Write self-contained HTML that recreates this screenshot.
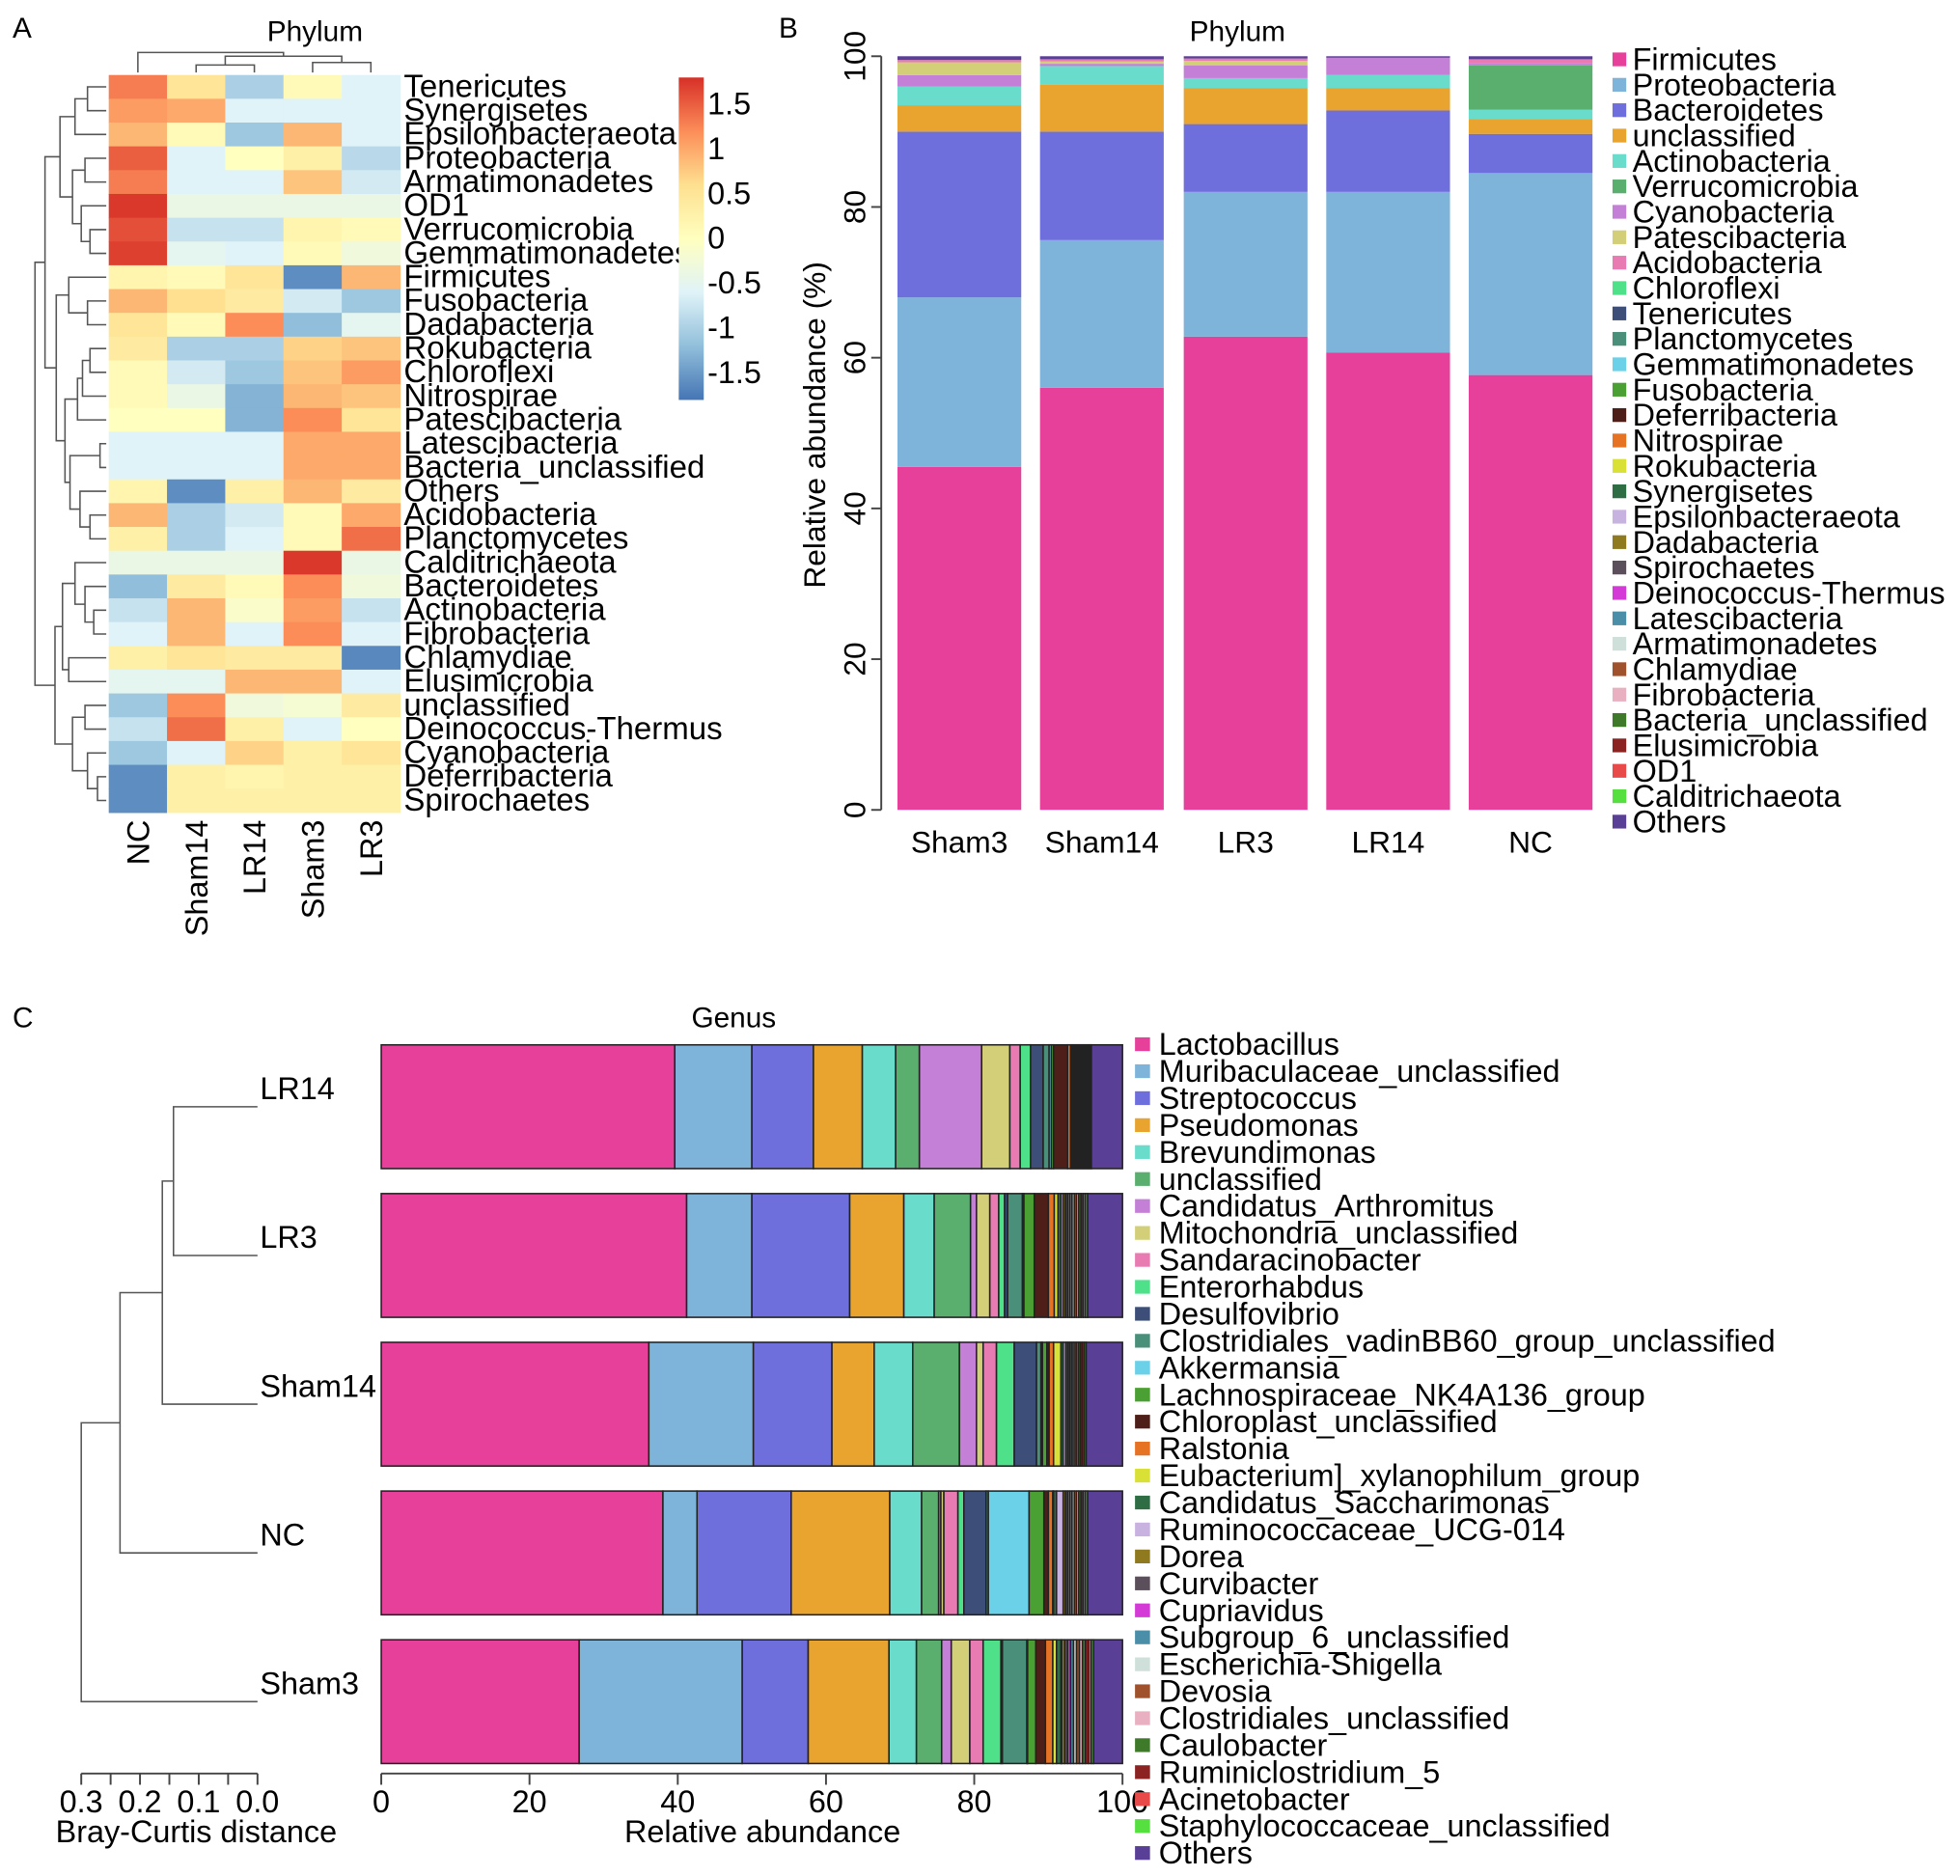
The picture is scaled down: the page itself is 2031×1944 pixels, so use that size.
<!DOCTYPE html>
<html><head><meta charset="utf-8"><style>
html,body{margin:0;padding:0;background:#fff;}
svg{display:block;font-family:"Liberation Sans",Arial,sans-serif;}
</style></head><body>
<svg id="fig" width="2031" height="1944" viewBox="0 0 1568 1501" preserveAspectRatio="none" xmlns="http://www.w3.org/2000/svg">
<rect x="0" y="0" width="1568" height="1501" fill="#fff"/>
<text x="10" y="30" font-size="23">A</text>
<text x="252" y="33" font-size="23" text-anchor="middle">Phylum</text>
<text x="623" y="30" font-size="23">B</text>
<text x="990" y="33" font-size="23" text-anchor="middle">Phylum</text>
<text x="10" y="822" font-size="23">C</text>
<text x="587" y="822" font-size="23" text-anchor="middle">Genus</text>
<g id="gA"></g>
<g id="gB"></g>
<g id="gC"></g>
</svg>
<script>
// ---------- Panel A data ----------
const heatCols = ["NC","Sham14","LR14","Sham3","LR3"];
const heatRows = ["Tenericutes","Synergisetes","Epsilonbacteraeota","Proteobacteria","Armatimonadetes","OD1","Verrucomicrobia","Gemmatimonadetes","Firmicutes","Fusobacteria","Dadabacteria","Rokubacteria","Chloroflexi","Nitrospirae","Patescibacteria","Latescibacteria","Bacteria_unclassified","Others","Acidobacteria","Planctomycetes","Calditrichaeota","Bacteroidetes","Actinobacteria","Fibrobacteria","Chlamydiae","Elusimicrobia","unclassified","Deinococcus-Thermus","Cyanobacteria","Deferribacteria","Spirochaetes"];
const heatValues = [
[1.3,0.5,-1.0,0.1,-0.6],[1.1,1.0,-0.6,-0.6,-0.6],[0.9,0.1,-1.1,0.9,-0.6],[1.5,-0.6,0.0,0.3,-0.9],
[1.3,-0.6,-0.6,0.8,-0.7],[1.75,-0.4,-0.4,-0.4,-0.4],[1.6,-0.8,-0.8,0.2,0.1],[1.7,-0.5,-0.6,0.1,-0.3],
[0.2,0.1,0.5,-1.6,0.9],[0.9,0.6,0.4,-0.7,-1.1],[0.5,0.1,1.2,-1.2,-0.5],[0.4,-1.0,-1.0,0.7,0.8],
[0.1,-0.7,-1.1,0.8,1.1],[0.1,-0.4,-1.3,0.9,0.8],[0.0,0.0,-1.3,1.2,0.5],[-0.6,-0.6,-0.6,1.0,1.0],
[-0.6,-0.6,-0.6,1.0,1.0],[0.2,-1.6,0.3,0.9,0.4],[0.9,-1.0,-0.7,0.1,1.0],[0.3,-1.0,-0.6,0.1,1.4],
[-0.4,-0.4,-0.4,1.75,-0.4],[-1.2,0.4,0.1,1.2,-0.3],[-0.8,0.9,-0.1,1.1,-0.8],[-0.6,0.9,-0.6,1.2,-0.6],
[0.3,0.5,0.4,0.4,-1.65],[-0.5,-0.5,0.9,0.9,-0.6],[-1.1,1.2,-0.3,-0.2,0.4],[-0.8,1.4,0.3,-0.6,0.0],
[-1.1,-0.6,0.7,0.3,0.5],[-1.6,0.3,0.2,0.3,0.3],[-1.6,0.3,0.3,0.3,0.3]];
const colorbarTicks = [1.5,1,0.5,0,-0.5,-1,-1.5];
const rowMerges = [[0,1,70],[31,2,60],[3,4,68],[6,7,72],[5,34,65],[33,35,58],[32,36,48],[9,10,70],[8,38,55],[11,12,72],[40,13,66],[41,14,62],[15,16,80],[18,19,72],[17,44,64],[43,45,56],[42,46,52],[39,47,45],[37,48,36],[22,23,75],[21,50,68],[20,51,60],[24,25,55],[52,53,50],[26,27,68],[29,30,78],[28,56,70],[55,57,58],[54,58,44],[49,59,28]];
const colMerges = [[1,2,52],[3,4,50],[5,6,45],[0,7,42]];

// ---------- Panel B data ----------
const phylumSamples = ["Sham3","Sham14","LR3","LR14","NC"];
const phylumNames = ["Firmicutes","Proteobacteria","Bacteroidetes","unclassified","Actinobacteria","Verrucomicrobia","Cyanobacteria","Patescibacteria","Acidobacteria","Chloroflexi","Tenericutes","Planctomycetes","Gemmatimonadetes","Fusobacteria","Deferribacteria","Nitrospirae","Rokubacteria","Synergisetes","Epsilonbacteraeota","Dadabacteria","Spirochaetes","Deinococcus-Thermus","Latescibacteria","Armatimonadetes","Chlamydiae","Fibrobacteria","Bacteria_unclassified","Elusimicrobia","OD1","Calditrichaeota","Others"];
const phySham3  = [45.5,22.5,22,3.5,2.5,0,1.5,1.7,0.3,0,0,0,0,0,0,0,0,0,0,0,0,0,0,0,0,0,0,0,0,0,0.5];
const physham14 = [56,19.6,14.4,6.2,2.5,0,0.3,0.3,0.3,0,0,0,0,0,0,0,0,0,0,0,0,0,0,0,0,0,0,0,0,0,0.4];
const phyLR3    = [62.8,19.2,9,4.8,1.3,0,1.7,0.6,0.3,0,0,0,0,0,0,0,0,0,0,0,0,0,0,0,0,0,0,0,0,0,0.3];
const phyLR14   = [60.7,21.3,10.8,3,1.7,0,2.3,0,0,0,0,0,0,0,0,0,0,0,0,0,0,0,0,0,0,0,0,0,0,0,0.2];
const phyNC     = [57.7,26.8,5.2,2,1.2,5.9,0.3,0,0.5,0,0,0,0,0,0,0,0,0,0,0,0,0,0,0,0,0,0,0,0,0,0.4];
const phylumTicks = [0,20,40,60,80,100];

// ---------- Panel C data ----------
const genusSamples = ["LR14","LR3","Sham14","NC","Sham3"];
const genusNames = ["Lactobacillus","Muribaculaceae_unclassified","Streptococcus","Pseudomonas","Brevundimonas","unclassified","Candidatus_Arthromitus","Mitochondria_unclassified","Sandaracinobacter","Enterorhabdus","Desulfovibrio","Clostridiales_vadinBB60_group_unclassified","Akkermansia","Lachnospiraceae_NK4A136_group","Chloroplast_unclassified","Ralstonia","Eubacterium]_xylanophilum_group","Candidatus_Saccharimonas","Ruminococcaceae_UCG-014","Dorea","Curvibacter","Cupriavidus","Subgroup_6_unclassified","Escherichia-Shigella","Devosia","Clostridiales_unclassified","Caulobacter","Ruminiclostridium_5","Acinetobacter","Staphylococcaceae_unclassified","Others"];
const genLR14   = [39.6,10.4,8.3,6.6,4.5,3.2,8.4,3.8,1.4,1.4,1.7,0.8,0.3,0.3,1.9,0.4,0.2,0.2,0.2,0.2,0.2,0.2,0.2,0.2,0.2,0.2,0.2,0.2,0.2,0.2,4.2];
const genLR3    = [41.2,8.8,13.2,7.3,4.1,4.9,0.8,1.8,1.2,0.8,0.4,2.0,0.2,1.4,1.9,0.8,0.5,0.4,0.3,0.3,0.3,0.3,0.3,0.3,0.3,0.3,0.3,0.3,0.3,0.3,4.7];
const genSham14 = [36.1,14.1,10.6,5.7,5.2,6.3,2.3,0.9,1.8,2.4,3.0,0.6,0.2,0.6,0.3,0.6,1.0,0.3,0.35,0.25,0.25,0.25,0.25,0.25,0.25,0.25,0.25,0.25,0.25,0.25,4.9];
const genNC     = [38,4.6,12.7,13.3,4.3,2.3,0.3,0.4,1.9,0.8,3.0,0.3,5.5,2.0,0.6,0.6,0.1,0.4,0.9,0.3,0.3,0.3,0.3,0.3,0.3,0.3,0.3,0.3,0.3,0.3,4.7];
const genSham3  = [26.7,22.0,8.9,10.9,3.7,3.4,1.3,2.5,1.8,2.4,0.2,3.3,0.1,1.1,1.3,1.0,0.5,0.6,0.1,0.4,0.4,0.4,0.4,0.4,0.4,0.4,0.4,0.4,0.4,0.3,3.9];
const genusTicks = [0,20,40,60,80,100];
const brayTicks = [0.3,0.25,0.2,0.15,0.1,0.05,0.0];
const brayLabels = [0.3,0.2,0.1,0.0];
const brayMerges = [[0,1,0.143],[5,2,0.162],[6,3,0.234],[7,4,0.30]];

const palette = ["#e6409b","#7eb3da","#6e6fdc","#e8a42e","#6adccc","#5aae6e","#c47fd6","#d2cf78","#e87bb1","#4fe08a","#3d4f78","#4a8f7a","#6bd1e8","#4aa032","#4d1f18","#e67224","#d9e036","#2f6e45","#c8b2e0","#8f7a1f","#5a4f5a","#d43ad6","#4a8ea8","#cfe0da","#a0522d","#e8b0c0","#3e7a2a","#8b2323","#e84a4a","#55e040","#5a3f96"];

const NS="http://www.w3.org/2000/svg";
function mk(tag, attrs, parent){const e=document.createElementNS(NS,tag);for(const k in attrs)e.setAttribute(k,attrs[k]);parent.appendChild(e);return e;}

// ---------- Panel A ----------
const gA=document.getElementById('gA');
const hx0=87,hx1=320,hy0=60,hy1=650;
const cw=(hx1-hx0)/heatCols.length, rh=(hy1-hy0)/heatRows.length;
const stops=["#4575b4","#91bfdb","#e0f3f8","#ffffbf","#fee090","#fc8d59","#d73027"];
const vmin=-1.8,vmax=1.8;
function hex(c){return [parseInt(c.slice(1,3),16),parseInt(c.slice(3,5),16),parseInt(c.slice(5,7),16)];}
function cmap(v){let t=(v-vmin)/(vmax-vmin);t=Math.max(0,Math.min(1,t))*(stops.length-1);const i=Math.min(stops.length-2,Math.floor(t));const f=t-i;const a=hex(stops[i]),b=hex(stops[i+1]);return "rgb("+a.map((x,k)=>Math.round(x+(b[k]-x)*f)).join(",")+")";}
heatValues.forEach((row,r)=>{row.forEach((v,c)=>{
  const e=mk('rect',{x:hx0+c*cw,y:hy0+r*rh,width:cw+0.5,height:rh+0.5,fill:cmap(v)},gA);
  
  
});
  const t=mk('text',{x:hx1+3,y:hy0+(r+0.5)*rh+8,'font-size':25.5},gA);t.textContent=heatRows[r];
  
  
});
heatCols.forEach((c,i)=>{
  const x=hx0+(i+0.5)*cw+9, y=hy1+6;
  const t=mk('text',{x:x,y:y,'font-size':25,'text-anchor':'end',transform:`rotate(-90 ${x} ${y})`},gA);t.textContent=c;
  
  
});
(function(){const pos={};heatRows.forEach((_,i)=>pos[i]=[hx0-2,hy0+(i+0.5)*rh]);let id=heatRows.length;
 rowMerges.forEach(m=>{const a=pos[m[0]],b=pos[m[1]],x=m[2];
  const p=mk('path',{d:`M${a[0]},${a[1]}H${x}V${b[1]}H${b[0]}`,fill:'none',stroke:'#555','stroke-width':1.2},gA);
  
  
  pos[id++]=[x,(a[1]+b[1])/2];});})();
(function(){const pos={};heatCols.forEach((_,i)=>pos[i]=[hx0+(i+0.5)*cw,hy0-2]);let id=heatCols.length;
 colMerges.forEach(m=>{const a=pos[m[0]],b=pos[m[1]],y=m[2];
  const p=mk('path',{d:`M${a[0]},${a[1]}V${y}H${b[0]}V${b[1]}`,fill:'none',stroke:'#555','stroke-width':1.2},gA);
  
  
  pos[id++]=[(a[0]+b[0])/2,y];});})();
const defs=mk('defs',{},gA);const lg=mk('linearGradient',{id:'cb',x1:0,y1:1,x2:0,y2:0},defs);
stops.forEach((s,i)=>mk('stop',{offset:i/(stops.length-1),'stop-color':s},lg));
const cbx=543,cby0=62,cby1=320;
const cb=mk('rect',{x:cbx,y:cby0,width:20,height:cby1-cby0,fill:'url(#cb)'},gA);


colorbarTicks.forEach(v=>{const y=cby1-(v-vmin)/(vmax-vmin)*(cby1-cby0);
  const t=mk('text',{x:566,y:y+8,'font-size':25},gA);t.textContent=String(v);
  
  });

// ---------- Panel B ----------
const gB=document.getElementById('gB');
const phyData=[phySham3,physham14,phyLR3,phyLR14,phyNC];
const by0=648,by1=45; const ys=v=>by0-(by0-by1)*v/100;
const bx=[718,832,947,1061,1175], bw=99;
phyData.forEach((arr,s)=>{let cum=0;arr.forEach((v,i)=>{if(v<=0)return;
  const e=mk('rect',{x:bx[s],y:ys(cum+v),width:bw,height:ys(cum)-ys(cum+v),fill:palette[i]},gB);
  
  
  cum+=v;});
  const t=mk('text',{x:bx[s]+bw/2,y:682,'font-size':24.5,'text-anchor':'middle'},gB);t.textContent=phylumSamples[s];
  
  
});
mk('line',{x1:705,y1:ys(0),x2:705,y2:ys(100),stroke:'#444','stroke-width':1.5},gB);
phylumTicks.forEach(v=>{const y=ys(v);
  mk('line',{x1:697,y1:y,x2:705,y2:y,stroke:'#444','stroke-width':1.5},gB);
  const t=mk('text',{x:692,y:y,'font-size':24.5,'text-anchor':'middle',transform:`rotate(-90 692 ${y})`},gB);t.textContent=String(v);
  
  });
(function(){const t=mk('text',{x:660,y:340,'font-size':24.5,'text-anchor':'middle',transform:'rotate(-90 660 340)'},gB);t.textContent='Relative abundance (%)';
  
  })();
phylumNames.forEach((n,i)=>{const y=48+i*20.33;
  const r=mk('rect',{x:1290,y:y-6,width:11,height:11,fill:palette[i]},gB);
  
  
  const t=mk('text',{x:1306,y:y+8,'font-size':25},gB);t.textContent=n;
  
  });

// ---------- Panel C ----------
const gC=document.getElementById('gC');
const genData=[genLR14,genLR3,genSham14,genNC,genSham3];
const gx0=305,gx1=898; const xs=v=>gx0+(gx1-gx0)*v/100;
const gy=[836,955,1074,1193,1312], gh=99;
genData.forEach((arr,s)=>{let cum=0;arr.forEach((v,i)=>{if(v<=0)return;
  const e=mk('rect',{x:xs(cum),y:gy[s],width:xs(cum+v)-xs(cum),height:gh,fill:palette[i],stroke:'#222','stroke-width':1.2},gC);
  
  
  cum+=v;});});
mk('line',{x1:xs(0),y1:1419,x2:xs(100),y2:1419,stroke:'#444','stroke-width':1.5},gC);
genusTicks.forEach(v=>{const x=xs(v);
  mk('line',{x1:x,y1:1419,x2:x,y2:1428,stroke:'#444','stroke-width':1.5},gC);
  const t=mk('text',{x:x,y:1450,'font-size':25,'text-anchor':'middle'},gC);t.textContent=String(v);
  
  });
(function(){const t=mk('text',{x:610,y:1474,'font-size':25,'text-anchor':'middle'},gC);t.textContent='Relative abundance';
  
  })();
genusNames.forEach((n,i)=>{const y=836+i*21.57;
  const r=mk('rect',{x:908,y:y-6,width:12,height:11,fill:palette[i]},gC);
  
  
  const t=mk('text',{x:927,y:y+8,'font-size':25},gC);t.textContent=n;
  
  });
const dx0=206,dx1=65; const dxs=d=>dx0-(dx0-dx1)*d/0.3;
(function(){const pos={};genusSamples.forEach((n,i)=>{pos[i]=[dx0,gy[i]+gh/2];
  const t=mk('text',{x:208,y:gy[i]+gh/2-6,'font-size':25},gC);t.textContent=n;
  
  });
 let id=genusSamples.length;
 brayMerges.forEach(m=>{const a=pos[m[0]],b=pos[m[1]],x=dxs(m[2]);
  const p=mk('path',{d:`M${a[0]},${a[1]}H${x}V${b[1]}H${b[0]}`,fill:'none',stroke:'#555','stroke-width':1.2},gC);
  
  
  pos[id++]=[x,(a[1]+b[1])/2];});})();
mk('line',{x1:dxs(0.3),y1:1419,x2:dxs(0),y2:1419,stroke:'#444','stroke-width':1.5},gC);
brayTicks.forEach(v=>{const x=dxs(v);mk('line',{x1:x,y1:1419,x2:x,y2:1428,stroke:'#444','stroke-width':1.5},gC);});
brayLabels.forEach(v=>{const t=mk('text',{x:dxs(v),y:1450,'font-size':25,'text-anchor':'middle'},gC);t.textContent=v.toFixed(1);
  
  });
(function(){const t=mk('text',{x:157,y:1474,'font-size':25,'text-anchor':'middle'},gC);t.textContent='Bray-Curtis distance';
  
  })();
</script>
</body></html>
